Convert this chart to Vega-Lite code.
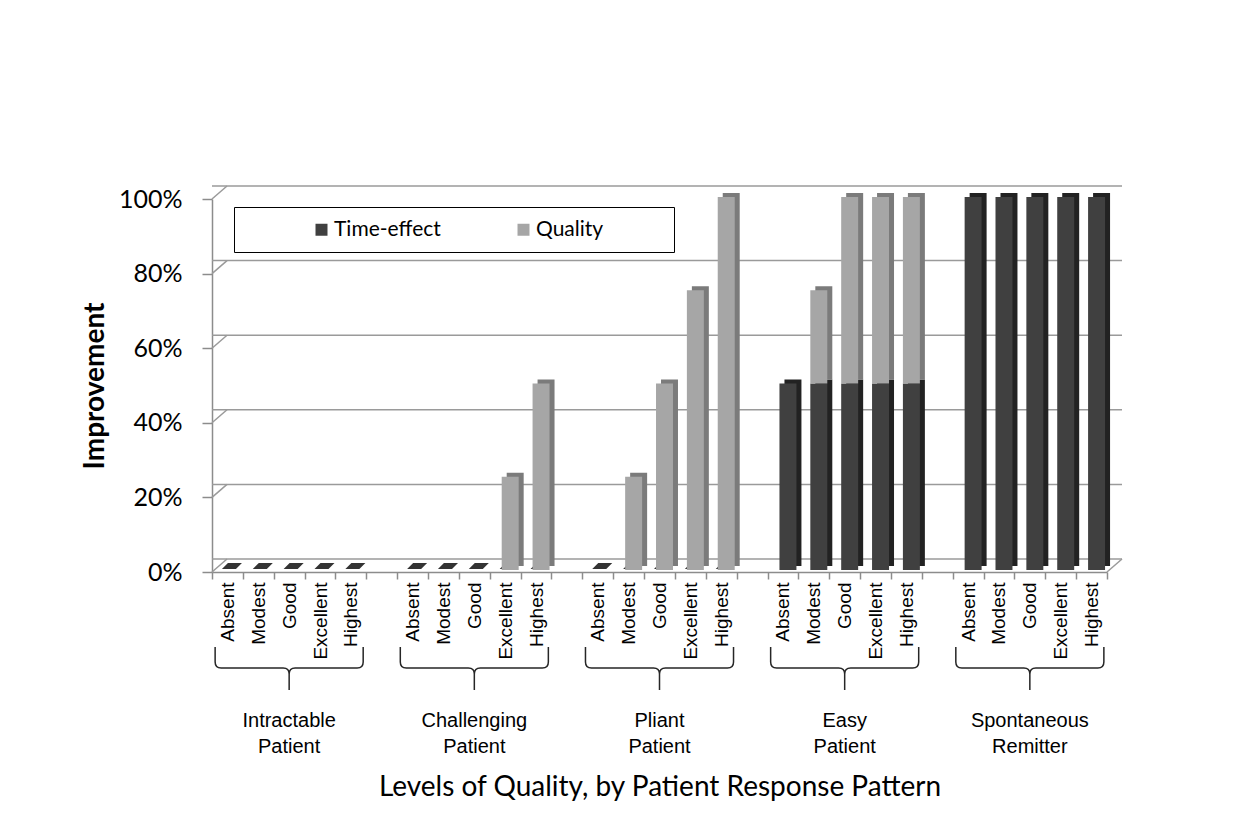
{
  "$schema": "https://vega.github.io/schema/vega-lite/v6.json",
  "width": 895,
  "height": 373,
  "autosize": "none",
  "padding": {"left": 212, "top": 199, "right": 136, "bottom": 250},
  "background": "white",
  "config": {"view": {"stroke": null}, "font": "Lato"},
  "datasets": {
    "gridTicks": [{"pct": 0}, {"pct": 20}, {"pct": 40}, {"pct": 60}, {"pct": 80}, {"pct": 100}],
    "response": [
      {"group": "Intractable Patient", "level": "Absent", "series": "Time-effect", "value": 0},
      {"group": "Intractable Patient", "level": "Absent", "series": "Quality", "value": 0},
      {"group": "Intractable Patient", "level": "Modest", "series": "Time-effect", "value": 0},
      {"group": "Intractable Patient", "level": "Modest", "series": "Quality", "value": 0},
      {"group": "Intractable Patient", "level": "Good", "series": "Time-effect", "value": 0},
      {"group": "Intractable Patient", "level": "Good", "series": "Quality", "value": 0},
      {"group": "Intractable Patient", "level": "Excellent", "series": "Time-effect", "value": 0},
      {"group": "Intractable Patient", "level": "Excellent", "series": "Quality", "value": 0},
      {"group": "Intractable Patient", "level": "Highest", "series": "Time-effect", "value": 0},
      {"group": "Intractable Patient", "level": "Highest", "series": "Quality", "value": 0},
      {"group": "Challenging Patient", "level": "Absent", "series": "Time-effect", "value": 0},
      {"group": "Challenging Patient", "level": "Absent", "series": "Quality", "value": 0},
      {"group": "Challenging Patient", "level": "Modest", "series": "Time-effect", "value": 0},
      {"group": "Challenging Patient", "level": "Modest", "series": "Quality", "value": 0},
      {"group": "Challenging Patient", "level": "Good", "series": "Time-effect", "value": 0},
      {"group": "Challenging Patient", "level": "Good", "series": "Quality", "value": 0},
      {"group": "Challenging Patient", "level": "Excellent", "series": "Time-effect", "value": 0},
      {"group": "Challenging Patient", "level": "Excellent", "series": "Quality", "value": 25},
      {"group": "Challenging Patient", "level": "Highest", "series": "Time-effect", "value": 0},
      {"group": "Challenging Patient", "level": "Highest", "series": "Quality", "value": 50},
      {"group": "Pliant Patient", "level": "Absent", "series": "Time-effect", "value": 0},
      {"group": "Pliant Patient", "level": "Absent", "series": "Quality", "value": 0},
      {"group": "Pliant Patient", "level": "Modest", "series": "Time-effect", "value": 0},
      {"group": "Pliant Patient", "level": "Modest", "series": "Quality", "value": 25},
      {"group": "Pliant Patient", "level": "Good", "series": "Time-effect", "value": 0},
      {"group": "Pliant Patient", "level": "Good", "series": "Quality", "value": 50},
      {"group": "Pliant Patient", "level": "Excellent", "series": "Time-effect", "value": 0},
      {"group": "Pliant Patient", "level": "Excellent", "series": "Quality", "value": 75},
      {"group": "Pliant Patient", "level": "Highest", "series": "Time-effect", "value": 0},
      {"group": "Pliant Patient", "level": "Highest", "series": "Quality", "value": 100},
      {"group": "Easy Patient", "level": "Absent", "series": "Time-effect", "value": 50},
      {"group": "Easy Patient", "level": "Absent", "series": "Quality", "value": 0},
      {"group": "Easy Patient", "level": "Modest", "series": "Time-effect", "value": 50},
      {"group": "Easy Patient", "level": "Modest", "series": "Quality", "value": 25},
      {"group": "Easy Patient", "level": "Good", "series": "Time-effect", "value": 50},
      {"group": "Easy Patient", "level": "Good", "series": "Quality", "value": 50},
      {"group": "Easy Patient", "level": "Excellent", "series": "Time-effect", "value": 50},
      {"group": "Easy Patient", "level": "Excellent", "series": "Quality", "value": 50},
      {"group": "Easy Patient", "level": "Highest", "series": "Time-effect", "value": 50},
      {"group": "Easy Patient", "level": "Highest", "series": "Quality", "value": 50},
      {"group": "Spontaneous Remitter", "level": "Absent", "series": "Time-effect", "value": 100},
      {"group": "Spontaneous Remitter", "level": "Absent", "series": "Quality", "value": 0},
      {"group": "Spontaneous Remitter", "level": "Modest", "series": "Time-effect", "value": 100},
      {"group": "Spontaneous Remitter", "level": "Modest", "series": "Quality", "value": 0},
      {"group": "Spontaneous Remitter", "level": "Good", "series": "Time-effect", "value": 100},
      {"group": "Spontaneous Remitter", "level": "Good", "series": "Quality", "value": 0},
      {"group": "Spontaneous Remitter", "level": "Excellent", "series": "Time-effect", "value": 100},
      {"group": "Spontaneous Remitter", "level": "Excellent", "series": "Quality", "value": 0},
      {"group": "Spontaneous Remitter", "level": "Highest", "series": "Time-effect", "value": 100},
      {"group": "Spontaneous Remitter", "level": "Highest", "series": "Quality", "value": 0}
    ]
  },
  "resolve": {"axis": {"x": "independent", "y": "independent"}},
  "layer": [
    {
      "data": {"name": "gridTicks"},
      "mark": {"type": "rule", "color": "#9a9a9a", "strokeWidth": 1.5, "xOffset": 15, "yOffset": -13},
      "encoding": {"y": {"field": "pct", "type": "quantitative", "axis": null}}
    },
    {
      "data": {"name": "gridTicks"},
      "mark": {"type": "point", "shape": "M0,0L1,-0.867", "size": 900, "filled": false, "stroke": "#9a9a9a", "strokeWidth": 1.5, "opacity": 1},
      "encoding": {
        "x": {"datum": "Intractable Patient|Absent", "bandPosition": 0, "axis": null},
        "y": {"field": "pct", "type": "quantitative", "axis": null}
      }
    },
    {
      "data": {"name": "gridTicks"},
      "transform": [{"filter": "datum.pct == 0"}],
      "mark": {"type": "point", "shape": "M0,0L1,-0.867", "size": 900, "filled": false, "stroke": "#9a9a9a", "strokeWidth": 1.5, "opacity": 1},
      "encoding": {
        "x": {"datum": "Spontaneous Remitter|Highest", "bandPosition": 1, "axis": null},
        "y": {"field": "pct", "type": "quantitative", "axis": null}
      }
    },
    {
      "data": {"name": "response"},
      "transform": [
        {"calculate": "datum.group + '|' + datum.level", "as": "slot"},
        {"filter": "datum.series == 'Time-effect' && datum.value == 0"}
      ],
      "mark": {"type": "point", "shape": "M-0.367,-0.2L0.567,-0.2L0.967,-0.6L0.033,-0.6Z", "size": 900, "filled": true, "fill": "#333333", "strokeWidth": 0, "opacity": 1},
      "encoding": {
        "x": {"field": "slot", "type": "nominal", "axis": null},
        "y": {"datum": 0, "axis": null}
      }
    },
    {
      "data": {"name": "response"},
      "transform": [{"calculate": "datum.group + '|' + datum.level", "as": "slot"}],
      "mark": {"type": "bar", "width": {"band": 0.55}, "xOffset": 10, "yOffset": -6, "y2Offset": -6},
      "encoding": {
        "x": {"field": "slot", "type": "nominal", "axis": null},
        "y": {"field": "value", "type": "quantitative", "stack": "zero", "axis": null},
        "detail": {"field": "series"},
        "order": {"field": "series", "sort": "descending"},
        "fill": {"condition": {"test": "datum.series == 'Quality'", "value": "#7b7b7b"}, "value": "#222222"}
      }
    },
    {
      "data": {"name": "response"},
      "transform": [{"calculate": "datum.group + '|' + datum.level", "as": "slot"}],
      "mark": {"type": "bar", "width": {"band": 0.55}, "xOffset": 5, "yOffset": -2, "y2Offset": -2},
      "encoding": {
        "x": {
          "field": "slot",
          "type": "nominal",
          "scale": {
            "domain": [
              "Intractable Patient|Absent", "Intractable Patient|Modest", "Intractable Patient|Good", "Intractable Patient|Excellent", "Intractable Patient|Highest",
              "gap 1",
              "Challenging Patient|Absent", "Challenging Patient|Modest", "Challenging Patient|Good", "Challenging Patient|Excellent", "Challenging Patient|Highest",
              "gap 2",
              "Pliant Patient|Absent", "Pliant Patient|Modest", "Pliant Patient|Good", "Pliant Patient|Excellent", "Pliant Patient|Highest",
              "gap 3",
              "Easy Patient|Absent", "Easy Patient|Modest", "Easy Patient|Good", "Easy Patient|Excellent", "Easy Patient|Highest",
              "gap 4",
              "Spontaneous Remitter|Absent", "Spontaneous Remitter|Modest", "Spontaneous Remitter|Good", "Spontaneous Remitter|Excellent", "Spontaneous Remitter|Highest"
            ],
            "paddingInner": 0,
            "paddingOuter": 0
          },
          "axis": {
            "title": "Levels of Quality, by Patient Response Pattern",
            "labelExpr": "split(datum.label + '|', '|')[1]",
            "labelAngle": -90,
            "labelFont": "Liberation Sans",
            "labelFontSize": 19,
            "labelColor": "#000000",
            "labelPadding": 3,
            "labelOverlap": false,
            "tickBand": "extent",
            "tickSize": 7,
            "tickWidth": 1.5,
            "tickColor": "#8c8c8c",
            "domainColor": "#8c8c8c",
            "domainWidth": 1.5,
            "titleFont": "Lato",
            "titleFontSize": 28,
            "titleFontWeight": "normal",
            "titleColor": "#000000",
            "titlePadding": 114
          }
        },
        "y": {
          "field": "value",
          "type": "quantitative",
          "stack": "zero",
          "scale": {"domain": [0, 100], "nice": false},
          "axis": {
            "title": "Improvement",
            "values": [0, 20, 40, 60, 80, 100],
            "labelExpr": "datum.label + '%'",
            "labelFont": "Lato",
            "labelFontSize": 25,
            "labelColor": "#000000",
            "labelPadding": 20,
            "tickSize": 10,
            "tickWidth": 1.5,
            "tickColor": "#8c8c8c",
            "domainColor": "#8c8c8c",
            "domainWidth": 1.5,
            "grid": false,
            "titleFont": "Lato",
            "titleFontSize": 28,
            "titleFontWeight": "bold",
            "titleColor": "#000000",
            "titlePadding": 9
          }
        },
        "color": {
          "field": "series",
          "type": "nominal",
          "scale": {"domain": ["Time-effect", "Quality"], "range": ["#404040", "#a6a6a6"]},
          "legend": {
            "title": null,
            "orient": "none",
            "legendX": 22,
            "legendY": 8,
            "direction": "horizontal",
            "strokeColor": "#000000",
            "fillColor": "#ffffff",
            "padding": 12,
            "symbolType": "square",
            "symbolSize": 144,
            "symbolOffset": 65,
            "labelFont": "Lato",
            "labelFontSize": 21,
            "labelColor": "#000000",
            "labelOffset": 2,
            "columnPadding": 7,
            "labelExpr": "datum.label == 'Quality' ? 'Quality' + '\u00a0\u00a0\u00a0\u00a0\u00a0\u00a0\u00a0\u00a0\u00a0\u00a0\u00a0\u200b' : datum.label"
          }
        },
        "order": {"field": "series", "sort": "descending"}
      }
    },
    {
      "data": {"name": "response"},
      "transform": [
        {"calculate": "datum.group + '|' + datum.level", "as": "slot"},
        {"filter": "datum.level == 'Good' && datum.series == 'Time-effect'"}
      ],
      "mark": {
        "type": "point",
        "shape": "M-0.987,-0.28L-0.987,-0.08Q-0.987,0 -0.907,0L-0.08,0Q0,0 0,0.08L0,0.293M0,0.08Q0,0 0.08,0L0.907,0Q0.987,0 0.987,-0.08L0.987,-0.28",
        "size": 22500,
        "filled": false,
        "stroke": "#262626",
        "strokeWidth": 1.5,
        "opacity": 1,
        "yOffset": 96
      },
      "encoding": {
        "x": {"field": "slot", "type": "nominal", "axis": null},
        "y": {"datum": 0, "axis": null}
      }
    },
    {
      "data": {"name": "response"},
      "transform": [
        {"calculate": "datum.group + '|' + datum.level", "as": "slot"},
        {"filter": "datum.level == 'Good' && datum.series == 'Time-effect'"}
      ],
      "mark": {
        "type": "text",
        "font": "Liberation Sans",
        "fontSize": 20,
        "align": "center",
        "baseline": "middle",
        "lineBreak": " ",
        "lineHeight": 26,
        "color": "#000000",
        "yOffset": 149
      },
      "encoding": {
        "x": {"field": "slot", "type": "nominal", "axis": null},
        "y": {"datum": 0, "axis": null},
        "text": {"field": "group"}
      }
    }
  ]
}
